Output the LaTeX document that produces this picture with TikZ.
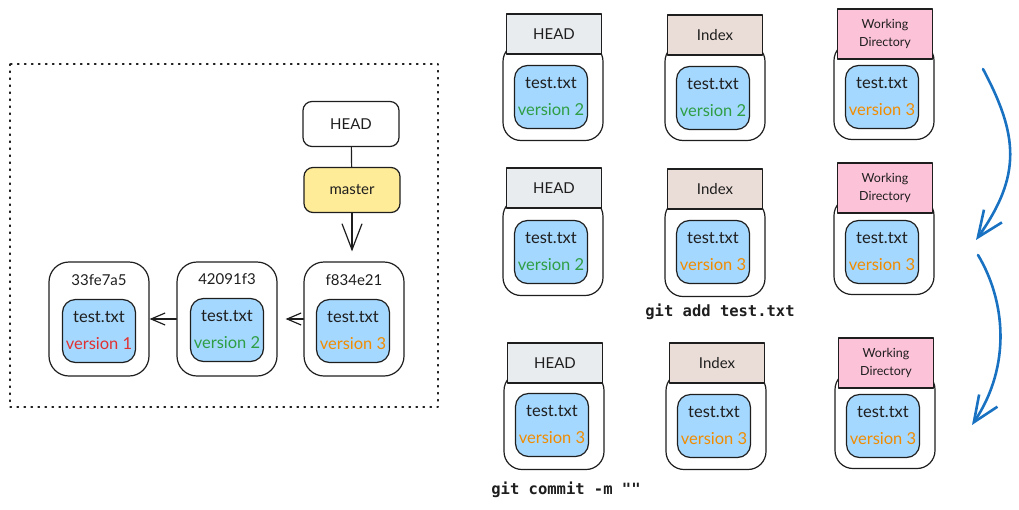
\documentclass[tikz,border=0pt]{standalone}
\usepackage{fontspec}
\setmainfont{Lato}
\newfontfamily\codefont{DejaVu Sans Mono}
\usepackage{tikz}
\usetikzlibrary{arrows.meta,positioning}
\definecolor{ink}{HTML}{1E1E1E}
\definecolor{headgray}{HTML}{E9ECEF}
\definecolor{indexbrown}{HTML}{EADDD7}
\definecolor{wdpink}{HTML}{FCC2D7}
\definecolor{fileblue}{HTML}{A5D8FF}
\definecolor{branchyellow}{HTML}{FFEC99}
\definecolor{vone}{HTML}{E03131}
\definecolor{vtwo}{HTML}{2F9E44}
\definecolor{vthree}{HTML}{F08C00}
\definecolor{flowblue}{HTML}{1971C2}

\begin{document}
\begin{tikzpicture}[x=1pt,y=-1pt,line cap=round,line join=round,
  hand/.style={font=\fontsize{15}{27}\selectfont,text=ink,align=center},
  plain/.style={draw=ink,line width=1.2pt,rounded corners=9pt,minimum width=96pt,minimum height=45pt,hand},
  commit/.style={draw=ink,line width=1.2pt,rounded corners=20pt,minimum width=100pt,minimum height=114pt},
  holder/.style={draw=ink,line width=1.2pt,rounded corners=18pt,fill=white,minimum width=100pt,minimum height=97pt},
  tag/.style={draw=ink,line width=1.2pt,minimum width=95pt,minimum height=40pt,hand},
  wdtag/.style={tag,fill=wdpink,minimum height=50pt,font=\fontsize{12.5}{18}\selectfont},
  file/.style={draw=ink,line width=1.2pt,rounded corners=13pt,fill=fileblue,minimum width=73pt,minimum height=63pt,inner sep=1pt,hand,font=\fontsize{16.5}{27}\selectfont},
  code/.style={font=\codefont\bfseries\fontsize{15.5}{18}\selectfont,text=ink},
  link/.style={draw=ink,line width=1.2pt,-{Straight Barb[length=14pt,width=12pt]}},
  flow/.style={draw=flowblue,line width=2.6pt,-{Straight Barb[length=26pt,width=22pt]}}]
\path[use as bounding box] (0,0) rectangle (1019,509);
\draw[ink,line width=1.2pt,dash pattern=on 1.5pt off 5.5pt] (10,64) rectangle (438,407);
\node[plain] (head) at (351,124) {HEAD};
\node[plain,fill=branchyellow] (master) at (352,190) {master};
\node[commit] (c1) at (99,319) {};
\node[commit] (c2) at (227,319) {};
\node[commit] (c3) at (354,319) {};
\node[hand] (c1l) at (99,280) {33fe7a5};
\node[hand] (c2l) at (227,279) {42091f3};
\node[hand] (c3l) at (354,280) {f834e21};
\node[file] (c1f) at (99,331) {test.txt\\\textcolor{vone}{version 1}};
\node[file] (c2f) at (227,330) {test.txt\\\textcolor{vtwo}{version 2}};
\node[file] (c3f) at (353,331) {test.txt\\\textcolor{vthree}{version 3}};
\draw[ink,line width=1.2pt] (head) -- (master);
\draw[link,-{Straight Barb[length=26pt,width=20pt]},shorten >=10pt] (master.south) -- (master.south |- c3.north);
\draw[link,shorten >=8pt] (c3.west) -- (c2.east);
\draw[link] (c2.west) -- (c1.east);
\node[holder] (h1) at (553,92) {};
\node[tag,fill=headgray] (h1l) at (554,34) {HEAD};
\node[file] (h1f) at (551,97) {test.txt\\\textcolor{vtwo}{version 2}};
\node[holder] (i1) at (715,92) {};
\node[tag,fill=indexbrown] (i1l) at (715,35) {Index};
\node[file] (i1f) at (713,98) {test.txt\\\textcolor{vtwo}{version 2}};
\node[holder] (w1) at (884,91) {};
\node[wdtag] (w1l) at (885,34) {Working\\Directory};
\node[file] (w1f) at (882,97) {test.txt\\\textcolor{vthree}{version 3}};
\node[holder] (h2) at (553,247) {};
\node[tag,fill=headgray] (h2l) at (554,188) {HEAD};
\node[file] (h2f) at (551,252) {test.txt\\\textcolor{vtwo}{version 2}};
\node[holder] (i2) at (715,248) {};
\node[tag,fill=indexbrown] (i2l) at (715,189) {Index};
\node[file] (i2f) at (713,252) {test.txt\\\textcolor{vthree}{version 3}};
\node[holder] (w2) at (884,246) {};
\node[wdtag] (w2l) at (885,188) {Working\\Directory};
\node[file] (w2f) at (882,252) {test.txt\\\textcolor{vthree}{version 3}};
\node[holder] (h3) at (554,421) {};
\node[tag,fill=headgray] (h3l) at (555,363) {HEAD};
\node[file] (h3f) at (552,425) {test.txt\\\textcolor{vthree}{version 3}};
\node[holder] (i3) at (716,421) {};
\node[tag,fill=indexbrown] (i3l) at (717,363) {Index};
\node[file] (i3f) at (714,426) {test.txt\\\textcolor{vthree}{version 3}};
\node[holder] (w3) at (885,420) {};
\node[wdtag] (w3l) at (886,363) {Working\\Directory};
\node[file] (w3f) at (883,426) {test.txt\\\textcolor{vthree}{version 3}};
\node[code] (addcmd) at (720,312) {git add test.txt};
\node[code] (commitcmd) at (566,490) {git commit -m ""};
\coordinate (s1) at (983,69);
\coordinate (e1) at (976,240);
\coordinate (s2) at (978,255);
\coordinate (e2) at (972,425);
\draw[flow] (s1) .. controls (1018,135) and (1022,175) .. (e1);
\draw[flow] (s2) .. controls (1005,300) and (1012,365) .. (e2);
\end{tikzpicture}
\end{document}
